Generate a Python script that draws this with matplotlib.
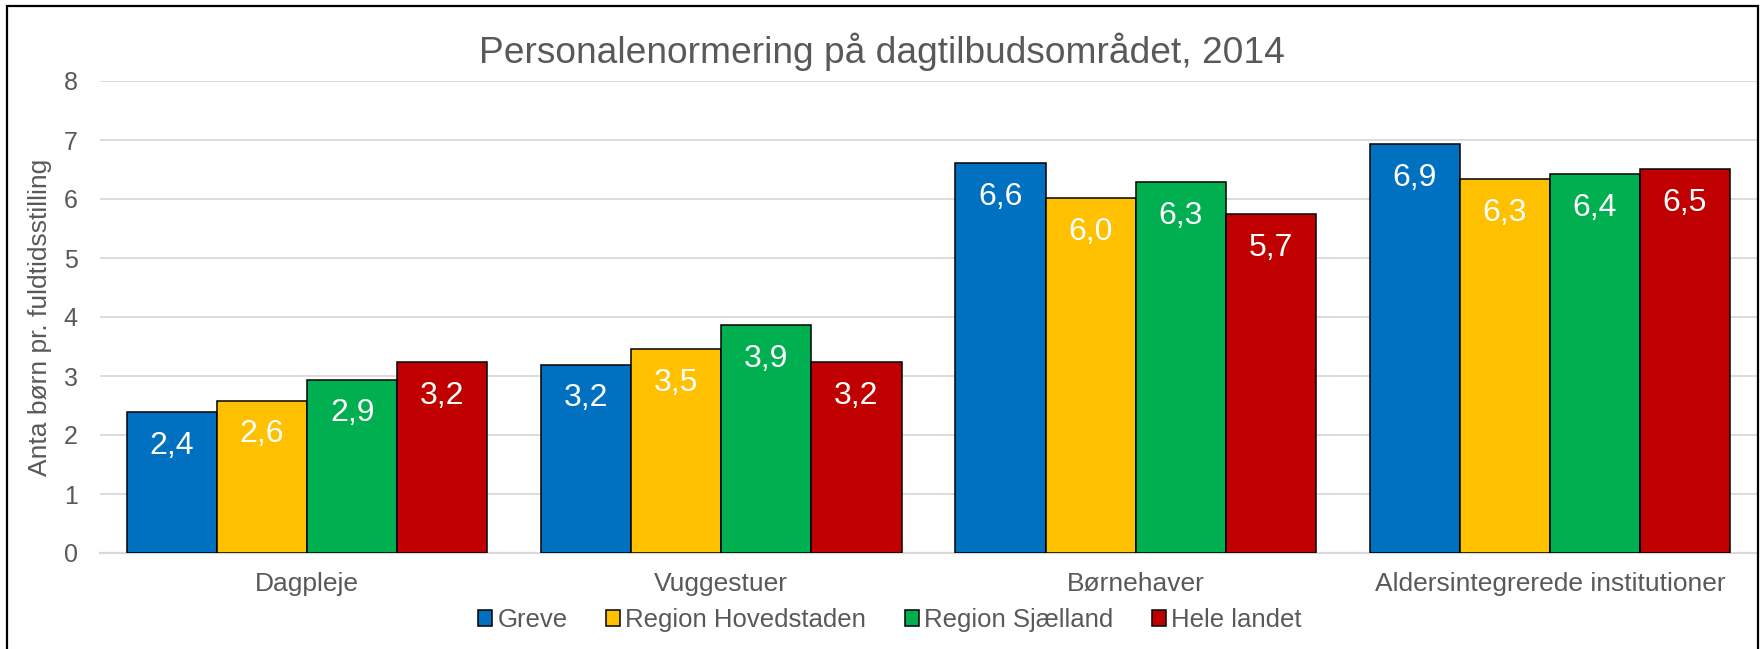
import numpy as np
import matplotlib
matplotlib.use('Agg')
import matplotlib.pyplot as plt
from matplotlib.patches import Rectangle

plt.rcParams['font.family'] = ['Liberation Sans', 'DejaVu Sans']

# ── Data ──
categories = ["Dagpleje", "Vuggestuer", "Børnehaver",
              "Aldersintegrerede institutioner"]
series = ["Greve", "Region Hovedstaden", "Region Sjælland", "Hele landet"]
greve = [2.39, 3.19, 6.61, 6.93]
hovedstaden = [2.58, 3.46, 6.01, 6.34]
sjaelland = [2.94, 3.86, 6.28, 6.42]
hele_landet = [3.23, 3.24, 5.74, 6.51]
values = [greve, hovedstaden, sjaelland, hele_landet]
colors = ["#0070C0", "#FFC000", "#00B050", "#C00000"]

TITLE = "Personalenormering på dagtilbudsområdet, 2014"
YLABEL = "Anta børn pr. fuldtidsstilling"
GREY = "#595959"

W, H = 1764, 649
fig = plt.figure(figsize=(W / 100, H / 100), dpi=100)
ax = fig.add_axes([100 / W, 1 - 553 / H, 1657 / W, (553 - 81) / H])

x = np.arange(len(categories))
bw = 0.2175
for i, (name, vals, col) in enumerate(zip(series, values, colors)):
    pos = x + (i - 1.5) * bw
    bars = ax.bar(pos, vals, bw, color=col, edgecolor="black",
                  linewidth=1.1, label=name, zorder=3)
    for b, v in zip(bars, vals):
        ax.annotate(f"{v:.1f}".replace(".", ","),
                    (b.get_x() + b.get_width() / 2, v),
                    xytext=(0, -30), textcoords="offset points",
                    ha="center", va="baseline", color="white",
                    fontsize=23, zorder=4)

ax.set_xlim(-0.5, len(categories) - 0.5)
ax.set_ylim(0, 8)
ax.set_yticks(range(0, 9))
ax.set_xticks(x)
ax.set_xticklabels(categories)
ax.tick_params(axis="both", length=0, colors=GREY, labelsize=18)
ax.tick_params(axis="x", labelsize=19, pad=14)
ax.tick_params(axis="y", pad=16)
ax.grid(axis="y", color="#D9D9D9", linewidth=1.3, zorder=0)
for s in ["top", "right", "left"]:
    ax.spines[s].set_visible(False)
ax.spines["bottom"].set_color("#D9D9D9")
ax.spines["bottom"].set_linewidth(1.6)

fig.text(0.5, 1 - 63 / H, TITLE, ha="center", va="baseline",
         fontsize=26.7, color=GREY)
fig.text(40 / W, 1 - 317 / H, YLABEL, rotation=90, ha="center",
         va="center", fontsize=19, color=GREY)

fig.legend(loc="center", bbox_to_anchor=(890 / W, 1 - 620 / H), ncol=4,
           frameon=False, fontsize=18.5, handlelength=0.55,
           handleheight=0.55, handletextpad=0.2, columnspacing=1.5,
           labelcolor=GREY)

# outer frame
fig.patches.append(Rectangle((7 / W, -0.05), (1758 - 7) / W, 1.05 - 6 / H,
                             transform=fig.transFigure, fill=False,
                             edgecolor="black", linewidth=1.6))

plt.savefig("out.png", dpi=100)
plt.close()
